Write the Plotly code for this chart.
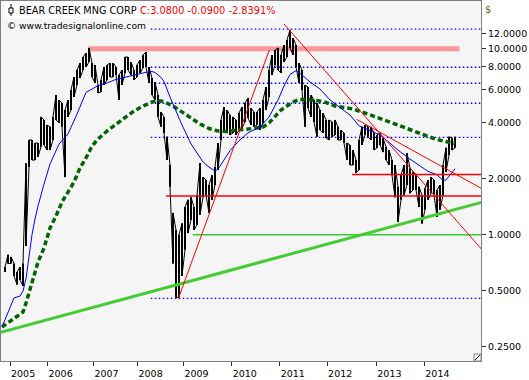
import plotly.graph_objects as go

# ---------------- data ----------------
# Price bars, one per sampled period (bar number = list position)
highs = [0.67, 0.78, 0.76, 0.70, 0.63, 0.67, 0.70, 2.42, 3.23, 3.23,
         3.11, 3.11, 4.30, 4.14, 3.89, 3.80, 4.30, 5.64, 5.30, 5.11,
         4.68, 5.30, 6.00, 7.04, 7.68, 8.38, 9.02, 9.49, 10.1, 8.38,
         8.17, 6.38, 6.79, 7.98, 8.17, 8.38, 8.38, 7.98, 7.22, 7.68,
         9.02, 9.02, 8.48, 7.68, 8.17, 8.70, 9.25, 9.61, 7.98, 6.95,
         6.62, 5.64, 4.57, 4.30, 3.36, 2.37, 1.31, 1.06, 1.00, 1.15,
         1.41, 1.54, 1.59, 1.41, 1.63, 2.43, 2.04, 1.97, 1.85, 2.09,
         2.31, 3.11, 4.14, 4.86, 4.68, 4.40, 4.30, 4.14, 4.51, 4.86,
         5.11, 5.43, 4.80, 4.57, 4.57, 4.80, 5.30, 6.22, 7.68, 9.25,
         9.84, 10.1, 9.25, 10.47, 11.14, 12.61, 11.42, 10.47, 8.38, 7.68,
         6.38, 6.22, 5.64, 5.30, 5.11, 4.68, 4.51, 4.14, 4.14, 4.04,
         4.14, 3.80, 3.65, 3.52, 3.11, 3.04, 2.85, 2.52, 3.23, 3.80,
         3.89, 3.80, 3.80, 3.52, 3.44, 3.52, 3.31, 2.97, 2.85, 2.52,
         2.37, 1.81, 2.09, 2.37, 2.74, 2.28, 2.18, 2.09, 1.81, 1.63,
         1.78, 1.97, 2.04, 1.97, 1.74, 1.85, 2.37, 2.93, 3.36, 3.31,
         3.36]
lows = [0.63, 0.70, 0.70, 0.60, 0.54, 0.57, 0.53, 0.87, 2.31, 2.52,
        2.52, 2.62, 2.97, 3.04, 2.85, 2.85, 3.23, 4.14, 3.99, 3.80,
        2.04, 4.30, 4.68, 5.50, 6.38, 6.95, 7.68, 7.98, 8.48, 7.04,
        6.54, 5.78, 5.85, 6.38, 6.79, 7.04, 7.04, 7.22, 5.30, 6.38,
        7.40, 7.68, 7.22, 6.79, 7.04, 7.40, 7.88, 7.98, 6.54, 5.64,
        5.30, 4.30, 3.80, 3.52, 2.52, 1.81, 0.70, 0.46, 0.46, 0.60,
        0.83, 1.02, 1.20, 1.06, 1.13, 1.28, 1.59, 1.63, 1.31, 1.54,
        1.85, 2.23, 3.23, 3.65, 3.52, 3.44, 3.52, 3.44, 3.65, 3.75,
        4.04, 4.24, 3.89, 3.80, 3.89, 3.65, 3.99, 4.68, 5.50, 7.22,
        8.17, 7.68, 7.40, 8.48, 9.02, 10.1, 9.25, 7.98, 6.54, 6.00,
        3.80, 4.80, 4.30, 4.04, 3.36, 3.65, 3.52, 3.31, 3.23, 3.36,
        3.44, 3.23, 3.23, 3.11, 2.52, 2.37, 2.37, 2.15, 2.23, 3.04,
        3.44, 3.36, 3.23, 2.85, 2.93, 3.04, 2.78, 2.52, 2.37, 2.09,
        1.59, 1.17, 1.54, 1.63, 1.85, 1.67, 1.74, 1.74, 1.41, 1.15,
        1.36, 1.54, 1.67, 1.63, 1.25, 1.36, 1.63, 2.18, 2.68, 2.85,
        2.93]

# Fast moving average (blue)
ma_fast_bar = [-1, 3, 5, 6, 7, 8, 9, 10, 11, 13, 15, 18, 21, 24, 27, 31, 34, 37,
               41, 44, 47, 49, 50, 52, 53, 55, 57, 59, 62, 66, 68, 70, 71, 73,
               75, 78, 81, 85, 88, 91, 93, 95, 97, 99, 102, 105, 108, 111, 115,
               118, 121, 125, 128, 131, 135, 138, 141, 144, 146, 147, 148, 150]
ma_fast_val = [0.319, 0.457, 0.468, 0.498, 0.58, 0.76, 1.0, 1.214, 1.427, 1.87,
               2.399, 3.07, 3.48, 4.456, 5.82, 6.33, 6.54, 6.84, 7.07, 7.31,
               7.47, 7.54, 7.45, 7.01, 6.66, 5.50, 4.59, 3.89, 3.08, 2.46,
               2.31, 2.20, 2.25, 2.51, 2.83, 3.20, 3.53, 3.79, 4.29, 5.30,
               6.30, 7.27, 7.62, 7.22, 6.56, 6.07, 5.37, 4.91, 4.40, 3.85,
               3.68, 3.44, 3.14, 2.85, 2.55, 2.36, 2.19, 2.10, 1.96, 1.97,
               2.06, 2.26]

# Slow moving average (dark green, dotted)
ma_slow_bar = [-1, 2, 4, 6, 7, 8, 9, 11, 13, 15, 17, 19, 21, 23, 25, 27, 29, 31,
               34, 37, 40, 43, 46, 49, 51, 53, 56, 59, 62, 65, 68, 71, 74, 77,
               80, 83, 86, 88, 90, 92, 94, 96, 98, 101, 104, 107, 110, 113, 116,
               119, 122, 125, 128, 131, 134, 137, 140, 143, 146, 150]
ma_slow_val = [0.319, 0.344, 0.366, 0.384, 0.429, 0.492, 0.557, 0.713, 0.848,
               1.086, 1.260, 1.499, 1.696, 1.920, 2.284, 2.585, 2.998, 3.269,
               3.610, 3.937, 4.293, 4.624, 4.919, 5.168, 5.265, 5.188, 4.919,
               4.567, 4.240, 3.937, 3.724, 3.610, 3.588, 3.655, 3.678, 3.724,
               3.793, 3.985, 4.293, 4.682, 4.919, 5.168, 5.331, 5.331, 5.265,
               5.136, 4.919, 4.829, 4.740, 4.567, 4.400, 4.224, 4.060, 3.890,
               3.724, 3.566, 3.415, 3.290, 3.189, 3.093]

# Axis ticks
year_bar = [1.7, 14.2, 29.5, 44.2, 59.5, 75.6, 91.6, 107.4, 123.8, 139.8]
year_lbl = ["2005", "2006", "2007", "2008", "2009", "2010", "2011", "2012", "2013", "2014"]
price_ticks = [0.25, 0.5, 1, 2, 4, 6, 8, 10, 12]
price_tick_lbl = ["0.2500", "0.5000", "1.0000", "2.0000", "4.0000", "6.0000",
                  "8.0000", "10.0000", "12.0000"]

# Drawn analysis lines: (bar start, price start, bar end, price end)
resist_band = (27.8, 10.0, 151.5, 10.0)
support_main = (-2, 0.2968, 160, 1.51)
support_one = (62.6, 1.0, 160, 1.0)
red_level_hi = (115.7, 2.11, 160, 2.11)
red_level_lo = (53.7, 1.615, 160, 1.615)
up_trend = (57.8, 0.455, 88.1, 9.84)
down_steep = (93, 13.58, 160, 0.796)
down_flat = (117.2, 4.17, 160, 1.73)
dotted_levels = [12.73, 7.95, 6.52, 5.09, 3.34, 0.455]
dotted_start_bar = 48.6
dotted_end_bar = 160

# ---------------- figure ----------------
fig = go.Figure()


def seg(spec, color, width, dash=None):
    x0, y0, x1, y1 = spec
    fig.add_trace(go.Scatter(x=[x0, x1], y=[y0, y1], mode="lines",
                             line=dict(color=color, width=width, dash=dash),
                             hoverinfo="skip", showlegend=False))


# background elements
seg(resist_band, "rgb(248,152,152)", 5)
for lvl in dotted_levels:
    seg((dotted_start_bar, lvl, dotted_end_bar, lvl), "#0000FF", 1.3, "1.5px,2.5px")

# price bars: vertical high/low bars plus a thin path linking them
bar_x, bar_y, path_x, path_y = [], [], [], []
for i, (lo, hi) in enumerate(zip(lows, highs)):
    bar_x += [i, i, None]
    bar_y += [lo, hi, None]
    path_x += [i, i]
    path_y += [lo, hi] if i % 2 == 0 else [hi, lo]
fig.add_trace(go.Scatter(x=path_x, y=path_y, mode="lines",
                         line=dict(color="black", width=1),
                         hoverinfo="skip", showlegend=False))
fig.add_trace(go.Scatter(x=bar_x, y=bar_y, mode="lines",
                         line=dict(color="black", width=2),
                         hoverinfo="skip", showlegend=False))

# moving averages
fig.add_trace(go.Scatter(x=ma_slow_bar, y=ma_slow_val, mode="lines",
                         line=dict(color="#006400", width=3.5, dash="5px,3px"),
                         hoverinfo="skip", showlegend=False))
fig.add_trace(go.Scatter(x=ma_fast_bar, y=ma_fast_val, mode="lines",
                         line=dict(color="#0000FF", width=1),
                         hoverinfo="skip", showlegend=False))

# trend / level lines
seg(support_main, "#44CC33", 3)
seg(support_one, "#33CC33", 1.5)
seg(red_level_hi, "#FF0000", 1.5)
seg(red_level_lo, "#FF0000", 1.5)
seg(up_trend, "#FF0000", 1)
seg(down_steep, "#FF0000", 1)
seg(down_flat, "#FF0000", 1)

# plot area: x 1..481 px, y 1..361 px
W, H = 529, 380
L, R, T, B = 1, 48, 1, 19
pw, ph = W - L - R, H - T - B


def pxx(p):
    return (p - L) / pw


def pxy(p):
    return (H - B - p) / ph


font = "DejaVu Sans"
fig.update_layout(
    width=W, height=H,
    margin=dict(l=L, r=R, t=T, b=B, pad=0),
    paper_bgcolor="white", plot_bgcolor="#F5F5F5",
    showlegend=False,
    xaxis=dict(range=[-1.333, 158.667], tickmode="array", tickvals=year_bar,
               ticktext=year_lbl, ticks="outside", ticklen=4, tickcolor="#303030",
               ticklabelshift=13, showgrid=False, zeroline=False,
               showline=True, linecolor="#808080", linewidth=1, mirror=True,
               tickfont=dict(family=font, size=9.5, color="black"),
               automargin=False, fixedrange=True),
    yaxis=dict(type="log", range=[-0.679, 1.2565], side="right", tickmode="array",
               tickvals=price_ticks, ticktext=price_tick_lbl, ticks="outside",
               ticklen=4, tickcolor="#303030", showgrid=False, zeroline=False,
               showline=True, linecolor="#808080", linewidth=1, mirror=True,
               tickfont=dict(family=font, size=9.5, color="black"),
               automargin=False, fixedrange=True),
    shapes=[
        dict(type="rect", xref="paper", yref="paper", x0=pxx(5), x1=pxx(276),
             y0=pxy(19), y1=pxy(1), fillcolor="white", line=dict(width=0),
             layer="below"),
        dict(type="line", xref="paper", yref="paper", x0=pxx(11), x1=pxx(11),
             y0=pxy(16), y1=pxy(4), line=dict(color="black", width=1)),
        dict(type="rect", xref="paper", yref="paper", x0=pxx(9), x1=pxx(13),
             y0=pxy(13), y1=pxy(8), fillcolor="white",
             line=dict(color="black", width=1)),
        # resize grip in the bottom-right corner
        dict(type="rect", xref="paper", yref="paper", x0=pxx(474), x1=pxx(481),
             y0=pxy(361), y1=pxy(354), fillcolor="white",
             line=dict(color="#808080", width=1)),
        dict(type="line", xref="paper", yref="paper", x0=pxx(475), x1=pxx(480),
             y0=pxy(360), y1=pxy(355), line=dict(color="black", width=1)),
    ],
    annotations=[
        dict(xref="paper", yref="paper", x=pxx(17), y=pxy(10), xanchor="left",
             yanchor="middle", showarrow=False, text="BEAR CREEK MNG CORP",
             font=dict(family=font, size=9.7, color="black")),
        dict(xref="paper", yref="paper", x=pxx(137.5), y=pxy(10), xanchor="left",
             yanchor="middle", showarrow=False, text="C:3.0800 -0.0900 -2.8391%",
             font=dict(family=font, size=9.8, color="#FF0000")),
        dict(xref="paper", yref="paper", x=pxx(5), y=pxy(26), xanchor="left",
             yanchor="middle", showarrow=False, text="© www.tradesignalonline.com",
             font=dict(family=font, size=9.2, color="black")),
        dict(xref="paper", yref="paper", x=pxx(488), y=pxy(9), xanchor="center",
             yanchor="middle", showarrow=False, text="$",
             font=dict(family=font, size=10, color="#7A6418")),
    ],
)

fig.write_html("out.html",
               config={"displayModeBar": False, "staticPlot": True},
               post_script="document.body.style.margin='0';"
                           "document.body.style.padding='0';")
